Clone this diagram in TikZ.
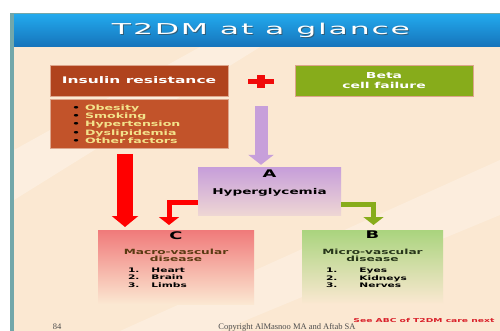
\documentclass[tikz,border=0pt]{standalone}
\usepackage{fontspec}
\newfontfamily\slidefont[FakeStretch=1.7]{DejaVu Sans}
\newfontfamily\titlefont[FakeStretch=2.1,LetterSpace=12]{DejaVu Sans}
\newfontfamily\footfont{Liberation Serif}
\usetikzlibrary{calc,arrows.meta,positioning}
\definecolor{slidebg}{HTML}{FBE8D2}
\definecolor{frameteal}{HTML}{72A7AA}
\definecolor{bartop}{HTML}{22A8EC}
\definecolor{barbottom}{HTML}{1673BA}
\definecolor{insred}{HTML}{B0431D}
\definecolor{riskred}{HTML}{C2532A}
\definecolor{boxedge}{HTML}{DDA58C}
\definecolor{riskyellow}{HTML}{F3E28A}
\definecolor{betagreen}{HTML}{87AC1B}
\definecolor{plusred}{HTML}{F00A0A}
\definecolor{hyperlilac}{HTML}{C79FDA}
\definecolor{macrored}{HTML}{F07A7A}
\definecolor{microgreen}{HTML}{AAD47E}
\definecolor{macrotext}{HTML}{5A3A12}
\definecolor{microtext}{HTML}{27361A}
\definecolor{seered}{HTML}{D9202A}
\tikzset{
    headbox/.style={
    rectangle,draw=boxedge,line width=0.7pt,text=white,align=center,inner sep=0pt,
    font=\slidefont\bfseries\fontsize{9.1}{10}\selectfont,
    minimum width=178pt,minimum height=31pt
    },
    riskbox/.style={
    rectangle,draw=boxedge,line width=0.7pt,fill=riskred,text=riskyellow,align=left,
    font=\slidefont\bfseries\fontsize{7.4}{8.3}\selectfont,inner sep=0pt,
    minimum width=178pt,minimum height=49pt,text width=154pt
    },
    fadebox/.style={
    rectangle,inner sep=0pt,minimum height=74pt
    },
    bigletter/.style={
    font=\slidefont\bfseries\fontsize{10.5}{11}\selectfont,text=black,inner sep=0pt
    },
    boxtitle/.style={
    font=\slidefont\bfseries\fontsize{7.15}{7.7}\selectfont,align=center,inner sep=0pt
    },
    boxlist/.style={
    font=\slidefont\bfseries\fontsize{6.25}{7.6}\selectfont,align=left,inner sep=0pt,text=black
    },
    blockarrow/.style n args={3}{
    line width=#1,-{Triangle[width=#2,length=#3]}
    },
}
\newcommand{\riskitem}[1]{\hspace*{10pt}\makebox[13pt][l]{\textcolor{black}{\textbullet}}#1}

\begin{document}
\begin{tikzpicture}[x=1pt, y=-1pt]
  \useasboundingbox (0,0) rectangle (500,331);
  % slide background and frame
  \fill[white] (0,0) rectangle (500,331);
  \fill[slidebg] (14,47) rectangle (500,331);
  \fill[white,opacity=0.3] (14,150) -- (200,47) -- (260,47) -- (14,200) -- cycle;
  \fill[white,opacity=0.25] (120,331) -- (500,160) -- (500,215) -- (220,331) -- cycle;
  \fill[frameteal] (10,13) rectangle (500,15);
  \fill[frameteal] (10,13) rectangle (14,331);
  \shade[top color=bartop,bottom color=barbottom] (14,15) rectangle (500,47);

  % title
  \node[font=\titlefont\fontsize{15}{16}\selectfont,text=black!75,opacity=0.6] (titleshadow) at (262,31) {T2DM at a glance};
  \node[font=\titlefont\fontsize{15}{16}\selectfont,text=white] (title) at (261,30) {T2DM at a glance};

  % causes
  \node[headbox,fill=insred] (insulin) at (139,80.5) {Insulin resistance};
  \node[riskbox] (risks) at (139,124) {\riskitem{Obesity}\\\riskitem{Smoking}\\\riskitem{Hypertension}\\\riskitem{Dyslipidemia}\\\riskitem{Other factors}};
  \node[headbox,fill=betagreen,font=\slidefont\bfseries\fontsize{8.2}{9.2}\selectfont] (beta) at (384,80.5) {Beta\\cell failure};

  \node[minimum width=26pt,minimum height=13pt,inner sep=0pt] (plus) at (261,81.8) {};
  \fill[plusred] ($(plus.west)+(0,-2.5)$) rectangle ($(plus.east)+(0,2.5)$);
  \fill[plusred] ($(plus.north)+(-4,0)$) rectangle ($(plus.south)+(4,0)$);

  % A
  \node[fadebox,minimum width=143pt,minimum height=47pt,top color=hyperlilac,bottom color=hyperlilac!25!slidebg] (hyper) at (269.5,191.5) {};
  \node[bigletter] (hyperA) at ($(hyper.north)+(0,6)$) {A};
  \node[boxtitle,text=black,font=\slidefont\bfseries\fontsize{8}{9}\selectfont] (hyperT) at ($(hyper.north)+(0,24.5)$) {Hyperglycemia};

  % C and B
  \node[fadebox,minimum width=156pt,top color=macrored,bottom color=slidebg,anchor=north] (macro) at (176,230) {};
  \node[bigletter] (macroC) at ($(macro.north)+(0,6)$) {C};
  \node[boxtitle,text=macrotext,anchor=north] (macroT) at ($(macro.north)+(0,18.5)$) {Macro-vascular\\disease};
  \node[boxlist,anchor=north west] (macroL) at ($(macro.north west)+(30,37.5)$) {1.\hspace{12pt}Heart\\2.\hspace{12pt}Brain\\3.\hspace{12pt}Limbs};

  \node[fadebox,minimum width=141pt,top color=microgreen,bottom color=slidebg,anchor=north] (micro) at (372.5,230) {};
  \node[bigletter] (microB) at ($(micro.north)+(0,5)$) {B};
  \node[boxtitle,text=microtext,anchor=north] (microT) at ($(micro.north)+(0,18.5)$) {Micro-vascular\\disease};
  \node[boxlist,anchor=north west] (microL) at ($(micro.north west)+(24,38)$) {1.\hspace{22pt}Eyes\\2.\hspace{22pt}Kidneys\\3.\hspace{22pt}Nerves};

  % arrows
  \draw[blockarrow={16pt}{26pt}{11pt},red] ($(risks.south)+(-14,5)$) -- ($(macro.north)+(-51,-3)$);
  \draw[blockarrow={13pt}{25pt}{10pt},hyperlilac] ($(plus.south)+(0,18)$) -- ($(plus.south |- hyper.north)+(0,-3)$);
  \draw[blockarrow={5pt}{20pt}{8pt},red] ($(hyper.west)+(0,11)$) -| ($(macro.north)+(-7,-5)$);
  \draw[blockarrow={5pt}{20pt}{8pt},betagreen] ($(hyper.east)+(0,13)$) -| ($(micro.north)+(1,-5)$);

  % notes
  \node[font=\slidefont\bfseries\fontsize{5.4}{6}\selectfont,text=seered,anchor=east] (seenext) at (498,320) {See ABC of T2DM care next};
  \node[font=\footfont\fontsize{8.5}{9}\selectfont,text=black!70,anchor=base] (pageno) at (57,329.3) {84};
  \node[font=\footfont\fontsize{8.5}{9}\selectfont,text=black!70,anchor=base] (copyright) at (287,329.3) {Copyright AlMasnoo MA and Aftab SA};
\end{tikzpicture}
\end{document}
